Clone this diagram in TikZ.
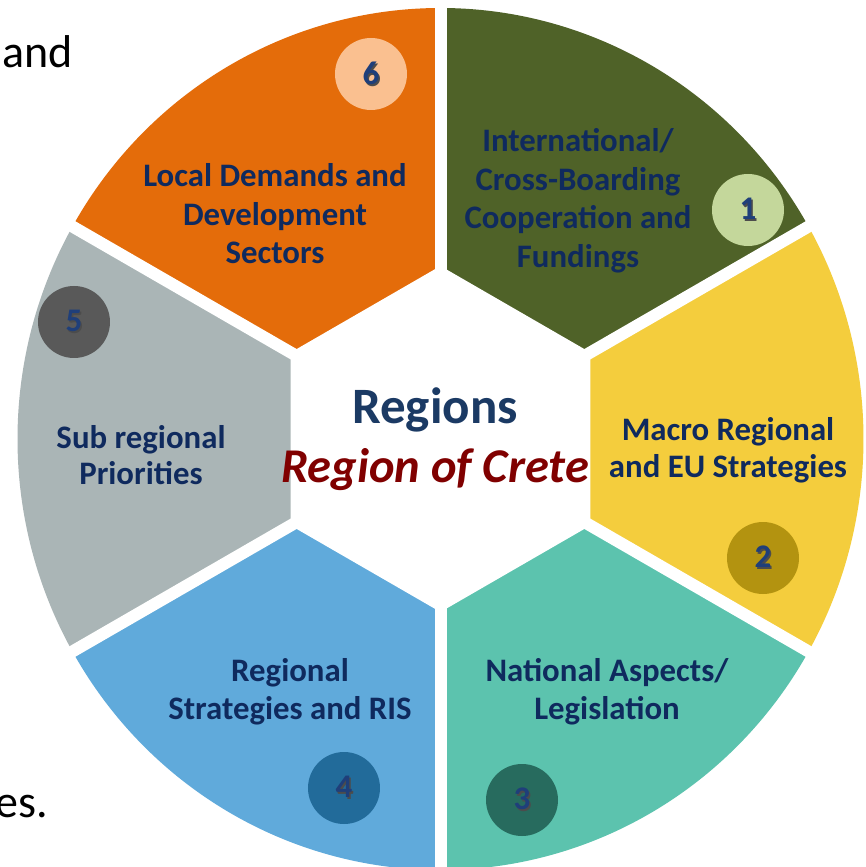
\documentclass[tikz,border=0pt]{standalone}
\usepackage{fontspec}
\setmainfont{Carlito}
\definecolor{cOrange}{HTML}{E46C0A}
\definecolor{cGreen}{HTML}{4F6228}
\definecolor{cYellow}{HTML}{F4CD3D}
\definecolor{cTeal}{HTML}{5CC3AE}
\definecolor{cBlue}{HTML}{60AADB}
\definecolor{cGrey}{HTML}{AAB5B6}
\definecolor{nSix}{HTML}{FAC090}
\definecolor{nOne}{HTML}{C4D79B}
\definecolor{nTwo}{HTML}{B39310}
\definecolor{nThree}{HTML}{276B5E}
\definecolor{nFour}{HTML}{226B9A}
\definecolor{nFive}{HTML}{595959}
\definecolor{navy}{HTML}{0F2A5E}
\definecolor{regblue}{HTML}{1B3A64}
\definecolor{crete}{HTML}{800000}
\definecolor{digit}{HTML}{1F3F7A}
\newcommand{\mysector}[3]{%
  \fill[#1] (0,0) -- (#2:423 and 431) arc[start angle=#2, end angle=#3, x radius=423, y radius=431] -- cycle;}
\newcommand{\shadowdigit}[1]{\makebox[0pt][l]{\hspace{1.5pt}\raisebox{-1.8pt}{\textcolor{black!70}{#1}}}#1}
\begin{document}
\begin{tikzpicture}[x=1pt,y=1pt,
  seglabel/.style={text=navy, font=\fontsize{32.8}{38.5}\selectfont\bfseries, align=center, inner sep=0pt},
  numdisc/.style={circle, minimum size=72pt, inner sep=0pt, text=digit, font=\fontsize{33}{33}\selectfont\bfseries},
  ]
\useasboundingbox (-440.5,-428) rectangle (424.5,439);
\fill[white] (-440.5,-428) rectangle (424.5,439);
% sectors
\mysector{cGreen}{30}{90}
\mysector{cOrange}{90}{150}
\mysector{cGrey}{150}{210}
\mysector{cBlue}{210}{270}
\mysector{cTeal}{270}{330}
\mysector{cYellow}{330}{390}
% gaps
\foreach \a in {30,90,150,210,270,330}
  \draw[white, line width=12pt] (0,0) -- (\a:520);
% hexagon
\fill[white] (90:173) -- (150:173) -- (210:173) -- (270:173) -- (330:173) -- (30:173) -- cycle;
% number discs
\foreach \n/\x/\y/\c in {6/-69.5/365/nSix, 1/307.5/229/nOne, 2/322.5/-119/nTwo, 3/81.5/-361/nThree, 4/-96.5/-349/nFour, 5/-366.5/117/nFive}{
  \node[numdisc, fill=\c] (n\n) at (\x,\y) {\shadowdigit{\n}};
}
% labels
\node[seglabel] (l6) at (-165.5,225) {Local Demands and\\Development\\Sectors};
\node[seglabel] (l1) at (137.5,238) {International/\\Cross-Boarding\\Cooperation and\\Fundings};
\node[seglabel, font=\fontsize{32.8}{37}\selectfont\bfseries] (l2) at (287.5,-11.5) {Macro Regional\\and EU Strategies};
\node[seglabel] (l3) at (166.5,-252.5) {National Aspects/\\Legislation};
\node[seglabel] (l4) at (-150.5,-253) {Regional\\Strategies and RIS};
\node[seglabel, font=\fontsize{32.8}{36}\selectfont\bfseries] (l5) at (-299.5,-16) {Sub regional\\Priorities};
% centre
\node[text=regblue, font=\fontsize{51}{51}\selectfont\bfseries] (reg) at (-5.5,29) {Regions};
\node[text=crete, font=\fontsize{48.5}{48.5}\selectfont\bfseries\itshape] (crete) at (-5.5,-31) {Region of Crete};
% background text fragments
\node[anchor=base east, font=\fontsize{46}{46}\selectfont, inner sep=0pt] (bg1) at (-367.5,371) {and};
\node[anchor=base east, font=\fontsize{46}{46}\selectfont, inner sep=0pt] (bg2) at (-392.5,-378) {es.};
\end{tikzpicture}
\end{document}
